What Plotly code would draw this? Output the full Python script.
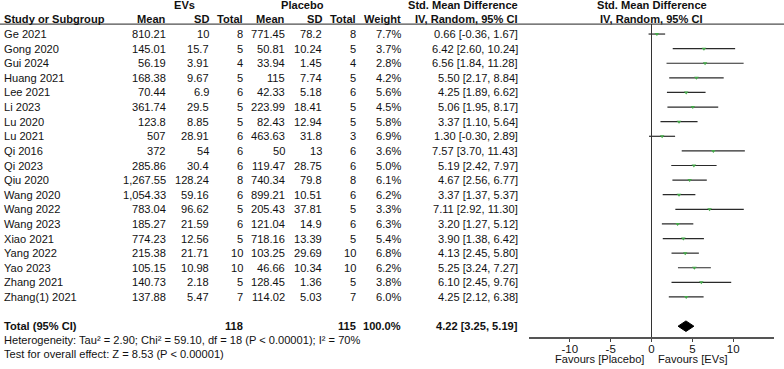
import plotly.graph_objects as go

W, H = 784, 369

studies = ["Ge 2021", "Gong 2020", "Gui 2024", "Huang 2021", "Lee 2021", "Li 2023", "Lu 2020",
           "Lu 2021", "Qi 2016", "Qi 2023", "Qiu 2020", "Wang 2020", "Wang 2022", "Wang 2023",
           "Xiao 2021", "Yang 2022", "Yao 2023", "Zhang 2021", "Zhang(1) 2021"]
ev_mean = [810.21, 145.01, 56.19, 168.38, 70.44, 361.74, 123.8, 507, 372, 285.86, 1267.55,
           1054.33, 783.04, 185.27, 774.23, 215.38, 105.15, 140.73, 137.88]
ev_sd = [10, 15.7, 3.91, 9.67, 6.9, 29.5, 8.85, 28.91, 54, 30.4, 128.24, 59.16, 96.62, 21.59,
         12.56, 21.71, 10.98, 2.18, 5.47]
ev_n = [8, 5, 4, 5, 6, 5, 5, 6, 6, 6, 8, 6, 5, 6, 5, 10, 10, 5, 7]
pl_mean = [771.45, 50.81, 33.94, 115, 42.33, 223.99, 82.43, 463.63, 50, 119.47, 740.34, 899.21,
           205.43, 121.04, 718.16, 103.25, 46.66, 128.45, 114.02]
pl_sd = [78.2, 10.24, 1.45, 7.74, 5.18, 18.41, 12.94, 31.8, 13, 28.75, 79.8, 10.51, 37.81, 14.9,
         13.39, 29.69, 10.34, 1.36, 5.03]
pl_n = [8, 5, 4, 5, 6, 5, 5, 3, 6, 6, 8, 6, 5, 6, 5, 10, 10, 5, 7]
weight = [7.7, 3.7, 2.8, 4.2, 5.6, 4.5, 5.8, 6.9, 3.6, 5.0, 6.1, 6.2, 3.3, 6.3, 5.4, 6.8, 6.2, 3.8, 6.0]
smd = [0.66, 6.42, 6.56, 5.50, 4.25, 5.06, 3.37, 1.30, 7.57, 5.19, 4.67, 3.37, 7.11, 3.20, 3.90,
       4.13, 5.25, 6.10, 4.25]
ci_lo = [-0.36, 2.60, 1.84, 2.17, 1.89, 1.95, 1.10, -0.30, 3.70, 2.42, 2.56, 1.37, 2.92, 1.27,
         1.38, 2.45, 3.24, 2.45, 2.12]
ci_hi = [1.67, 10.24, 11.28, 8.84, 6.62, 8.17, 5.64, 2.89, 11.43, 7.97, 6.77, 5.37, 11.30, 5.12,
         6.42, 5.80, 7.27, 9.76, 6.38]

total_ev_n = 118
total_pl_n = 115
total_weight = 100.0
total_smd = 4.22
total_lo = 3.25
total_hi = 5.19
heterogeneity = "Heterogeneity: Tau² = 2.90; Chi² = 59.10, df = 18 (P < 0.00001); I² = 70%"
overall = "Test for overall effect: Z = 8.53 (P < 0.00001)"
tick_vals = [-10, -5, 0, 5, 10]
fav_left = "Favours [Placebo]"
fav_right = "Favours [EVs]"

FONT = "Liberation Sans, Arial, sans-serif"
FS = 11.1
TXT = "#111111"


def fmt(v):
    s = f"{v:,.2f}"
    if "." in s:
        s = s.rstrip("0").rstrip(".")
    return s


rows = list(range(len(studies)))
total_row = len(studies) + 1

fig = go.Figure()

# CI lines
xs, ys = [], []
for r, a, b in zip(rows, ci_lo, ci_hi):
    xs += [a, b, None]
    ys += [r, r, None]
fig.add_trace(go.Scatter(x=xs, y=ys, mode="lines", line=dict(color="#2a2a2a", width=1.2),
                         hoverinfo="skip", showlegend=False))
# point estimates
fig.add_trace(go.Scatter(x=smd, y=rows, mode="markers",
                         marker=dict(symbol="triangle-down", size=4,
                                     color="#45a84a", line=dict(width=0)),
                         showlegend=False))
# diamond
fig.add_trace(go.Scatter(x=[total_lo, total_smd, total_hi, total_smd, total_lo],
                         y=[total_row, total_row - 0.36, total_row, total_row + 0.36, total_row],
                         mode="lines", fill="toself", fillcolor="black",
                         line=dict(color="black", width=1), showlegend=False))

y_top = -2.33
y_bot = 20.74
header_line = -0.68

fig.update_layout(
    width=W, height=H, margin=dict(l=0, r=0, t=0, b=0),
    paper_bgcolor="white", plot_bgcolor="white",
    font=dict(family=FONT, size=FS, color=TXT),
    xaxis=dict(domain=[529 / W, 774 / W], range=[-15, 15], showgrid=False, zeroline=False,
               showline=True, linecolor="#555555", linewidth=1.5, ticks="outside", ticklen=3,
               tickcolor="#444444", tickvals=tick_vals, ticktext=[str(v) for v in tick_vals],
               tickfont=dict(size=11.5, color=TXT), anchor="y", ticklabelstandoff=-3),
    xaxis2=dict(domain=[529 / W, 774 / W], range=[-15, 15], overlaying="x", anchor="y",
                side="bottom", showgrid=False, zeroline=False, showline=False, ticks="inside",
                ticklen=3, tickcolor="#444444", tickvals=tick_vals, showticklabels=False),
    yaxis=dict(domain=[32 / H, 1], range=[y_bot, y_top], visible=False),
)

# vertical zero line
fig.add_shape(type="line", xref="x", yref="y", x0=0, x1=0, y0=header_line, y1=y_bot,
              line=dict(color="#333333", width=1))
# header rule
fig.add_shape(type="line", xref="paper", yref="y", x0=0, x1=1, y0=header_line, y1=header_line,
              line=dict(color="#222222", width=1))


def txt(px, row, s, anchor="right", bold=False, yref="y"):
    if bold:
        s = f"<b>{s}</b>"
    fig.add_annotation(x=px / W, y=row, xref="paper", yref=yref, text=s, showarrow=False,
                       xanchor=anchor, yanchor="middle", borderpad=0,
                       font=dict(family=FONT, size=FS, color=TXT))


C_STUDY = 3
C_EVM, C_EVSD, C_EVN = 167, 210, 244
C_PLM, C_PLSD, C_PLN = 286, 323, 357
C_W, C_SMD = 402, 519

# headers
txt(184, -2, "EVs", "center", True)
txt(302, -2, "Placebo", "center", True)
txt(C_SMD, -2, "Std. Mean Difference", "right", True)
fig.add_annotation(x=0, y=-2, xref="x", yref="y", text="<b>Std. Mean Difference</b>",
                   showarrow=False, xanchor="center", yanchor="middle",
                   font=dict(family=FONT, size=FS, color=TXT))
txt(C_STUDY, -1, "Study or Subgroup", "left", True)
txt(C_EVM, -1, "Mean", "right", True)
txt(C_EVSD, -1, "SD", "right", True)
txt(C_EVN, -1, "Total", "right", True)
txt(C_PLM, -1, "Mean", "right", True)
txt(C_PLSD, -1, "SD", "right", True)
txt(C_PLN, -1, "Total", "right", True)
txt(C_W, -1, "Weight", "right", True)
txt(C_SMD, -1, "IV, Random, 95% CI", "right", True)
fig.add_annotation(x=0, y=-1, xref="x", yref="y", text="<b>IV, Random, 95% CI</b>",
                   showarrow=False, xanchor="center", yanchor="middle",
                   font=dict(family=FONT, size=FS, color=TXT))

for r in rows:
    txt(C_STUDY, r, studies[r], "left")
    txt(C_EVM, r, fmt(ev_mean[r]))
    txt(C_EVSD, r, fmt(ev_sd[r]))
    txt(C_EVN, r, str(ev_n[r]))
    txt(C_PLM, r, fmt(pl_mean[r]))
    txt(C_PLSD, r, fmt(pl_sd[r]))
    txt(C_PLN, r, str(pl_n[r]))
    txt(C_W, r, f"{weight[r]:.1f}%")
    txt(C_SMD, r, f"{smd[r]:.2f} [{ci_lo[r]:.2f}, {ci_hi[r]:.2f}]")

txt(C_STUDY, total_row, "Total (95% CI)", "left", True)
txt(C_EVN, total_row, str(total_ev_n), "right", True)
txt(C_PLN, total_row, str(total_pl_n), "right", True)
txt(C_W, total_row, f"{total_weight:.1f}%", "right", True)
txt(C_SMD, total_row, f"{total_smd:.2f} [{total_lo:.2f}, {total_hi:.2f}]", "right", True)

txt(C_STUDY, 1 - 340 / H, heterogeneity, "left", yref="paper")
txt(C_STUDY, 1 - 354 / H, overall, "left", yref="paper")
txt(645, 1 - 359 / H, fav_left, "right", yref="paper")
txt(657, 1 - 359 / H, fav_right, "left", yref="paper")

fig.write_html("out.html", config={"displayModeBar": False},
               post_script="document.body.style.margin='0';document.body.style.overflow='hidden';")
